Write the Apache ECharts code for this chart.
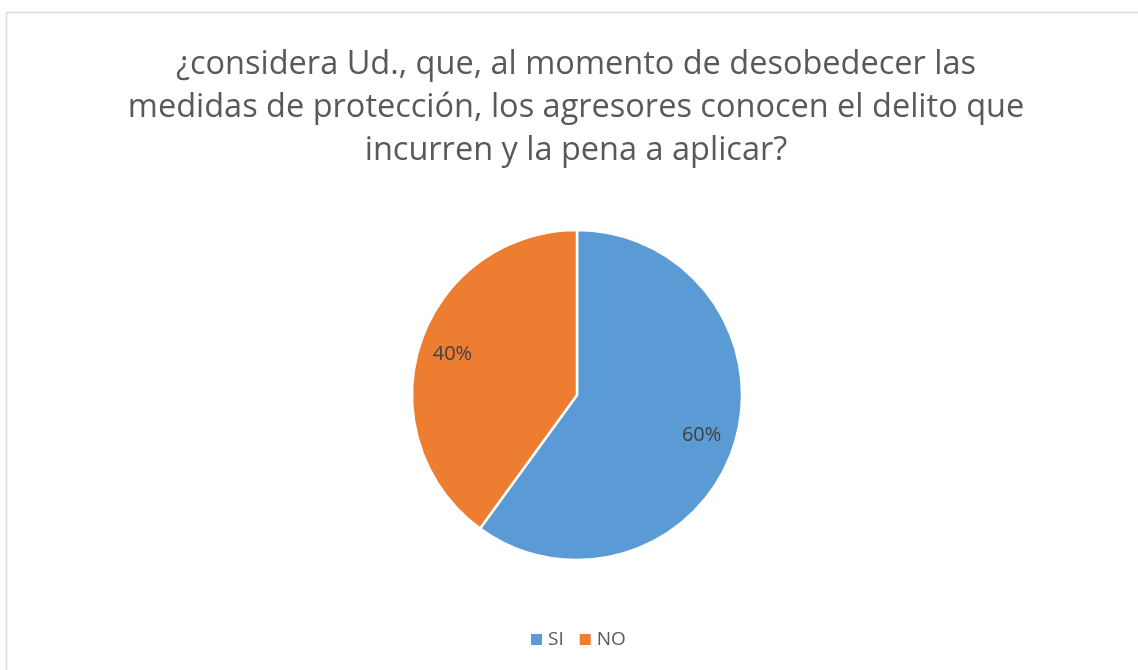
<!DOCTYPE html>
<html><head><meta charset="utf-8">
<script src="https://cdn.jsdelivr.net/npm/echarts@6/dist/echarts.min.js"></script>
<style>html,body{margin:0;padding:0;background:#fff}#c{width:1138px;height:670px}</style>
</head><body><div id="c"></div>
<script>
const categories = ['SI', 'NO'];
const values = [60, 40];
const colors = ['#5B9BD5', '#ED7D31'];
const titleText = '¿considera Ud., que, al momento de desobedecer las\nmedidas de protección, los agresores conocen el delito que\nincurren y la pena a aplicar?';

const data = categories.map((c, i) => ({ name: c, value: values[i], itemStyle: { color: colors[i] } }));
const labelData = categories.map((c, i) => ({ name: c, value: values[i] }));

const chart = echarts.init(document.getElementById('c'));
chart.setOption({
  animation: false,
  graphic: [{ type: 'rect', shape: { x: 6.5, y: 12.5, width: 1200, height: 700 }, style: { fill: 'none', stroke: '#D9D9D9', lineWidth: 1.5 }, silent: true }],
  title: {
    text: titleText, left: 571, textAlign: 'center', top: 38,
    textStyle: { fontFamily: 'Open Sans', fontSize: 32.5, fontWeight: 'normal', color: '#595959', lineHeight: 43, align: 'center' }
  },
  legend: {
    data: categories, bottom: 16, left: 524, icon: 'rect', itemWidth: 13, itemHeight: 13, itemGap: 14,
    textStyle: { fontFamily: 'Open Sans', fontSize: 19, color: '#595959' }
  },
  series: [
    {
      type: 'pie', center: [577, 395], radius: [0, 165], startAngle: 90, clockwise: true,
      data: data, label: { show: false }, labelLine: { show: false },
      itemStyle: { borderColor: '#fff', borderWidth: 2.5 }, silent: true
    },
    {
      type: 'pie', center: [577, 395], radius: [0, 256], startAngle: 90, clockwise: true,
      data: labelData, silent: true, legendHoverLink: false,
      itemStyle: { color: 'rgba(0,0,0,0)' },
      label: { show: true, position: 'inside', formatter: '{d}%', fontFamily: 'Open Sans', fontSize: 20, color: '#404040' },
      labelLine: { show: false }, tooltip: { show: false }
    }
  ]
});
</script></body></html>
